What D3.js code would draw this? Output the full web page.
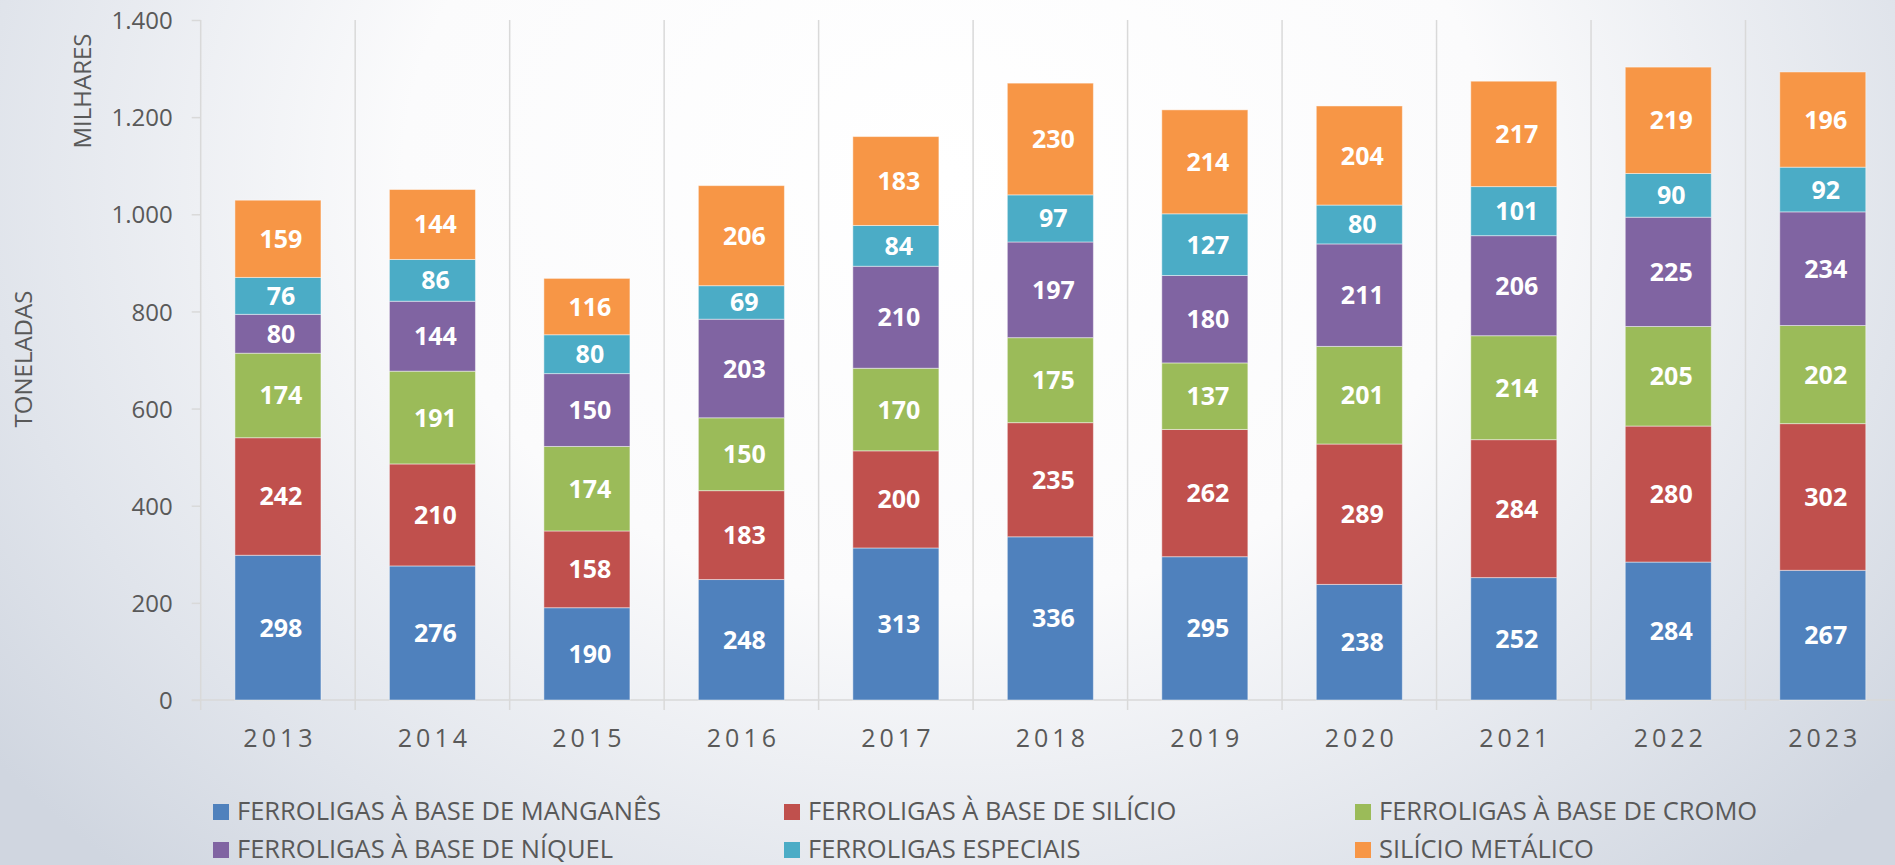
<!DOCTYPE html>
<html>
<head>
<meta charset="utf-8">
<script src="https://cdn.jsdelivr.net/npm/d3@7"></script>
<style>
  html, body { margin: 0; padding: 0; }
  body { width: 1895px; height: 865px; overflow: hidden; }
  svg { display: block; }
  text { font-family: "Open Sans", sans-serif; }
</style>
</head>
<body>
<svg id="chart" width="1895" height="865"></svg>
<script>
const years = ["2013","2014","2015","2016","2017","2018","2019","2020","2021","2022","2023"];
const seriesNames = [
  "FERROLIGAS À BASE DE MANGANÊS",
  "FERROLIGAS À BASE DE SILÍCIO",
  "FERROLIGAS À BASE DE CROMO",
  "FERROLIGAS À BASE DE NÍQUEL",
  "FERROLIGAS ESPECIAIS",
  "SILÍCIO METÁLICO"
];
const manganes  = [298,276,190,248,313,336,295,238,252,284,267];
const silicio   = [242,210,158,183,200,235,262,289,284,280,302];
const cromo     = [174,191,174,150,170,175,137,201,214,205,202];
const niquel    = [80,144,150,203,210,197,180,211,206,225,234];
const especiais = [76,86,80,69,84,97,127,80,101,90,92];
const silicioMetalico = [159,144,116,206,183,230,214,204,217,219,196];
const yTicks = [0,200,400,600,800,1000,1200,1400];
const colors = ["#4f81bd","#c0504d","#9bbb59","#8064a2","#4bacc6","#f79646"];

const seriesValues = [manganes, silicio, cromo, niquel, especiais, silicioMetalico];
const keys = seriesNames;
const table = years.map((y, i) => {
  const row = { year: y };
  keys.forEach((k, j) => row[k] = seriesValues[j][i]);
  return row;
});

const svg = d3.select("#chart");
const W = 1895, H = 865;

// background
const defs = svg.append("defs");
const rg = defs.append("radialGradient").attr("id", "bg")
  .attr("cx", "0.5").attr("cy", "0.2").attr("r", "0.85")
  .attr("gradientTransform", "translate(0.5,0.2) scale(0.75,1.3) translate(-0.5,-0.2)");
rg.append("stop").attr("offset", "0").attr("stop-color", "#ffffff");
rg.append("stop").attr("offset", "0.45").attr("stop-color", "#fbfbfc");
rg.append("stop").attr("offset", "0.8").attr("stop-color", "#e0e4eb");
rg.append("stop").attr("offset", "1").attr("stop-color", "#d0d6e0");
svg.append("rect").attr("width", W).attr("height", H).attr("fill", "url(#bg)");

const x0 = 200.7, x1 = 1900, yTop = 20, yBot = 700;
const x = d3.scaleBand().domain(years).range([x0, x1]).padding(0);
const y = d3.scaleLinear().domain([0, 1400]).range([yBot, yTop]);
const locale = d3.formatLocale({ decimal: ",", thousands: ".", grouping: [3], currency: ["R$", ""] });
const fmt = locale.format(",d");

const gridColor = "#d9d9d9";
const textColor = "#595959";

// vertical gridlines at category boundaries
svg.append("g").selectAll("line").data(years.slice(1).concat(["__end"]))
  .join("line")
  .attr("x1", d => d === "__end" ? x1 : x(d))
  .attr("x2", d => d === "__end" ? x1 : x(d))
  .attr("y1", yTop).attr("y2", yBot + 10)
  .attr("stroke", gridColor).attr("stroke-width", 1.5);

// y axis
const yAxis = d3.axisLeft(y).tickValues(yTicks).tickFormat(fmt).tickSize(9).tickPadding(19);
const gy = svg.append("g").attr("transform", `translate(${x0},0)`).call(yAxis);
gy.select(".domain").remove();
gy.selectAll(".tick line").attr("stroke", gridColor).attr("stroke-width", 1.5);
gy.selectAll(".tick text").attr("fill", textColor).style("font-size", "24px").attr("dy", "0.36em");
svg.append("line").attr("x1", x0).attr("x2", x0).attr("y1", yTop).attr("y2", yBot + 10)
  .attr("stroke", gridColor).attr("stroke-width", 1.5);

// x axis
svg.append("line").attr("x1", x0 - 9).attr("x2", x1).attr("y1", yBot).attr("y2", yBot)
  .attr("stroke", gridColor).attr("stroke-width", 1.5);
const xAxis = d3.axisBottom(x).tickSize(0).tickPadding(0);
const gx = svg.append("g").attr("transform", `translate(0,${yBot})`).call(xAxis);
gx.select(".domain").remove();
gx.selectAll(".tick text").attr("fill", textColor).style("font-size", "25px")
  .style("letter-spacing", "4px").attr("y", 47).attr("dy", 0).attr("dx", "2px");

// stacked bars
const stack = d3.stack().keys(keys);
const stacked = stack(table);
const barW = x.bandwidth() * 0.557;
const layers = svg.append("g").selectAll("g").data(stacked).join("g")
  .attr("fill", (d, i) => colors[i]);
layers.selectAll("rect").data(d => d).join("rect")
  .attr("x", d => x(d.data.year) + (x.bandwidth() - barW) / 2)
  .attr("width", barW)
  .attr("y", d => y(d[1]))
  .attr("height", d => y(d[0]) - y(d[1]))
  .attr("stroke", "rgba(255,255,255,0.45)").attr("stroke-width", 1);

// labels
layers.selectAll("text").data(d => d.map(v => ({ v, key: d.key }))).join("text")
  .attr("x", d => x(d.v.data.year) + x.bandwidth() / 2 + 3)
  .attr("y", d => (y(d.v[0]) + y(d.v[1])) / 2)
  .attr("dy", "0.36em")
  .attr("text-anchor", "middle")
  .attr("fill", "#ffffff")
  .style("font-size", "25px").style("font-weight", "700")
  .text(d => d.v.data[d.key]);

// axis titles
svg.append("text").attr("transform", "translate(82,91) rotate(-90)")
  .attr("text-anchor", "middle").attr("dy", "0.36em")
  .attr("fill", textColor).style("font-size", "24px").text("MILHARES");
svg.append("text").attr("transform", "translate(23,359) rotate(-90)")
  .attr("text-anchor", "middle").attr("dy", "0.36em")
  .attr("fill", textColor).style("font-size", "24px").text("TONELADAS");

// legend
const legX = [213, 784, 1355];
const legY = [820, 858];
const leg = svg.append("g").selectAll("g").data(seriesNames).join("g")
  .attr("transform", (d, i) => `translate(${legX[i % 3]},${legY[Math.floor(i / 3)]})`);
leg.append("rect").attr("x", 0).attr("y", -16).attr("width", 16).attr("height", 16)
  .attr("fill", (d, i) => colors[i]);
leg.append("text").attr("x", 24).attr("y", 0)
  .attr("fill", textColor).style("font-size", "25.5px").text(d => d);
</script>
</body>
</html>
